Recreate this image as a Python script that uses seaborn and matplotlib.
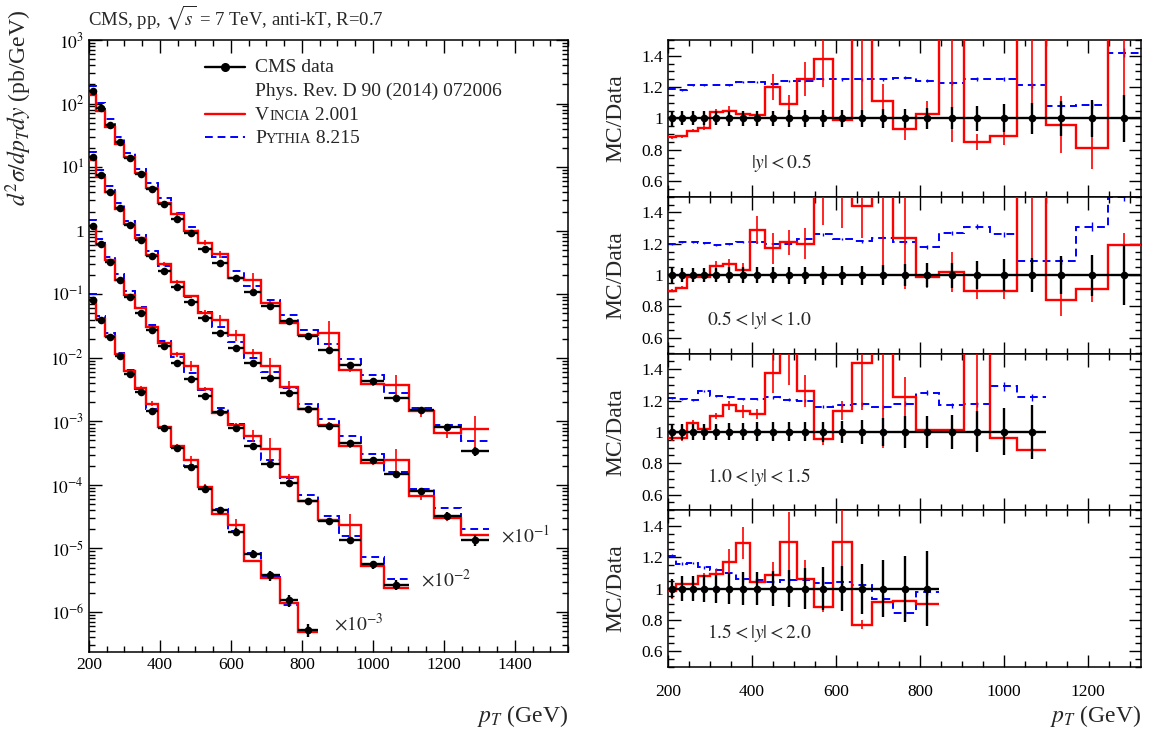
import numpy as np
import seaborn as sns
import matplotlib
matplotlib.use("Agg")
import matplotlib.pyplot as plt
from matplotlib.ticker import MultipleLocator, LogLocator, NullFormatter, FixedLocator

# pT bin edges (GeV), CMS 7 TeV inclusive jets
edges = [200, 220, 245, 272, 300, 330, 362, 395, 430, 468, 507, 548, 592, 638,
         686, 737, 790, 846, 905, 967, 1032, 1101, 1172, 1248, 1327]

rap_labels = [r"$|y| < 0.5$", r"$0.5 < |y| < 1.0$", r"$1.0 < |y| < 1.5$", r"$1.5 < |y| < 2.0$"]
scales = [1, 1e-1, 1e-2, 1e-3]
scale_labels = ["", r"$\times 10^{-1}$", r"$\times 10^{-2}$", r"$\times 10^{-3}$"]

# d2sigma/dpT dy (pb/GeV), before the scale factor
data_y0 = [156, 85.5, 46.5, 25.0, 13.7, 7.8, 4.5, 2.63, 1.54, 0.905, 0.518, 0.308,
           0.183, 0.108, 0.0645, 0.038, 0.0224, 0.0133, 0.0076, 0.0043, 0.00234,
           0.0015, 8.1e-4, 3.4e-4]
data_y1 = [144, 75.5, 41.2, 22.4, 12.1, 7.1, 4.0, 2.3, 1.32, 0.765, 0.428, 0.243,
           0.142, 0.0825, 0.0484, 0.0277, 0.0158, 0.0085, 0.0045, 0.00245, 0.00147,
           7.9e-4, 3.3e-4, 1.35e-4]
data_y2 = [119, 61, 32.3, 16.6, 9.0, 5.1, 2.74, 1.53, 0.83, 0.47, 0.255, 0.142,
           0.0785, 0.0415, 0.0216, 0.0109, 0.0055, 0.00275, 0.00135, 5.6e-4, 2.7e-4]
data_y3 = [82, 39.4, 21.2, 10.6, 5.66, 2.9, 1.48, 0.78, 0.38, 0.19, 0.087, 0.040,
           0.0183, 0.0083, 0.0038, 0.00152, 5.3e-4]

# relative data uncertainty (ratio units)
data_err0 = [0.05, 0.045, 0.045, 0.045, 0.045, 0.05, 0.05, 0.05, 0.05, 0.055, 0.055, 0.055,
             0.055, 0.055, 0.06, 0.06, 0.065, 0.07, 0.08, 0.09, 0.1, 0.11, 0.12, 0.15]
data_err1 = [0.05, 0.045, 0.045, 0.045, 0.045, 0.05, 0.05, 0.05, 0.05, 0.055, 0.055, 0.06,
             0.06, 0.06, 0.065, 0.07, 0.075, 0.08, 0.09, 0.1, 0.11, 0.12, 0.13, 0.19]
data_err2 = [0.05, 0.05, 0.05, 0.05, 0.05, 0.055, 0.055, 0.06, 0.06, 0.06, 0.06, 0.065,
             0.07, 0.075, 0.09, 0.1, 0.1, 0.11, 0.13, 0.15, 0.17]
data_err3 = [0.06, 0.08, 0.08, 0.085, 0.09, 0.1, 0.105, 0.105, 0.11, 0.12, 0.13, 0.135,
             0.145, 0.16, 0.18, 0.21, 0.24]

# Vincia 2.001 / data
vincia0 = [0.88, 0.885, 0.92, 0.94, 1.04, 1.05, 1.03, 1.02, 1.20, 1.09, 1.25, 1.38,
           0.99, 1.53, 1.11, 0.93, 1.03, 1.85, 0.85, 0.89, 1.62, 0.96, 0.81, 2.25]
vincia1 = [0.90, 0.92, 0.99, 0.99, 1.06, 1.07, 1.035, 1.29, 1.17, 1.21, 1.20, 1.62,
           1.60, 1.44, 1.55, 1.24, 0.985, 1.02, 0.90, 0.90, 1.70, 0.84, 0.91, 1.19]
vincia2 = [0.96, 0.96, 1.055, 1.02, 1.10, 1.17, 1.13, 1.115, 1.375, 1.60, 1.26, 0.955,
           1.135, 1.44, 1.70, 1.22, 1.01, 1.01, 1.75, 0.96, 0.885]
vincia3 = [0.985, 1.03, 1.03, 1.08, 1.095, 1.17, 1.29, 1.04, 1.09, 1.30, 1.06, 0.88,
           1.30, 0.77, 0.915, 0.92, 0.905]
vincia_err0 = [0.01, 0.01, 0.01, 0.015, 0.02, 0.03, 0.02, 0.02, 0.08, 0.06, 0.11, 0.18,
               0.04, 0.5, 0.11, 0.065, 0.08, 1.0, 0.05, 0.06, 0.7, 0.18, 0.13, 1.3]
vincia_err1 = [0.01, 0.01, 0.015, 0.015, 0.03, 0.03, 0.04, 0.09, 0.1, 0.08, 0.1, 0.3,
               0.3, 0.2, 0.5, 0.33, 0.07, 0.13, 0.05, 0.05, 0.8, 0.1, 0.08, 0.08]
vincia_err2 = [0.02, 0.02, 0.02, 0.02, 0.02, 0.03, 0.04, 0.03, 0.13, 0.3, 0.1, 0.04,
               0.06, 0.3, 0.8, 0.13, 0.05, 0.05, 0.8, 0.05, 0.05]
vincia_err3 = [0.05, 0.02, 0.02, 0.02, 0.03, 0.08, 0.1, 0.04, 0.08, 0.19, 0.12, 0.03,
               0.3, 0.03, 0.03, 0.13, 0.03]

# Pythia 8.215 / data
pythia0 = [1.19, 1.18, 1.21, 1.21, 1.215, 1.21, 1.23, 1.23, 1.22, 1.24, 1.24, 1.25,
           1.25, 1.25, 1.25, 1.26, 1.24, 1.225, 1.25, 1.25, 1.21, 1.08, 1.085, 1.42]
pythia1 = [1.20, 1.21, 1.21, 1.205, 1.19, 1.20, 1.21, 1.21, 1.20, 1.20, 1.23, 1.26,
           1.23, 1.215, 1.24, 1.21, 1.18, 1.27, 1.31, 1.26, 1.09, 1.09, 1.31, 1.50]
pythia2 = [1.215, 1.21, 1.205, 1.26, 1.23, 1.22, 1.21, 1.21, 1.22, 1.205, 1.20, 1.16,
           1.17, 1.18, 1.16, 1.18, 1.25, 1.17, 1.175, 1.29, 1.22]
pythia3 = [1.21, 1.16, 1.165, 1.135, 1.12, 1.10, 1.06, 1.055, 1.045, 1.055, 1.055, 1.035,
           1.04, 1.02, 0.935, 0.845, 0.98]
pythia_err0 = [0.005, 0.005, 0.005, 0.005, 0.005, 0.005, 0.006, 0.006, 0.007, 0.007, 0.008, 0.008,
               0.009, 0.009, 0.01, 0.01, 0.011, 0.012, 0.013, 0.014, 0.015, 0.017, 0.019, 0.03]
pythia_err1 = [0.005, 0.005, 0.005, 0.005, 0.005, 0.005, 0.006, 0.006, 0.007, 0.007, 0.008, 0.008,
               0.009, 0.009, 0.01, 0.01, 0.011, 0.012, 0.013, 0.014, 0.015, 0.017, 0.03, 0.03]
pythia_err2 = [0.006, 0.006, 0.006, 0.006, 0.006, 0.007, 0.007, 0.008, 0.008, 0.009, 0.009,
               0.01, 0.011, 0.012, 0.013, 0.014, 0.015, 0.016, 0.018, 0.03, 0.02]
pythia_err3 = [0.008, 0.008, 0.008, 0.008, 0.009, 0.009, 0.01, 0.01, 0.011, 0.012, 0.013,
               0.014, 0.015, 0.016, 0.018, 0.02, 0.022]

data_y = [data_y0, data_y1, data_y2, data_y3]
data_err = [data_err0, data_err1, data_err2, data_err3]
vincia = [vincia0, vincia1, vincia2, vincia3]
vincia_err = [vincia_err0, vincia_err1, vincia_err2, vincia_err3]
pythia = [pythia0, pythia1, pythia2, pythia3]
pythia_err = [pythia_err0, pythia_err1, pythia_err2, pythia_err3]

RED = "#ff0000"
BLUE = "#0000ff"
DASH = (0, (4, 2.5))

sns.set_theme(style="ticks")
plt.rcParams["font.family"] = ["Liberation Serif", "DejaVu Serif"]
plt.rcParams["mathtext.fontset"] = "stix"
plt.rcParams["xtick.direction"] = "in"
plt.rcParams["ytick.direction"] = "in"

W, H = 1151, 729
fig = plt.figure(figsize=(W / 100, H / 100), dpi=100)


def fbox(x0, y0, x1, y1):
    return [x0 / W, 1 - y1 / H, (x1 - x0) / W, (y1 - y0) / H]


def style_ticks(ax, size=12.5):
    ax.tick_params(which="both", direction="in", top=True, right=True, labelsize=size,
                   colors="black", width=1.0)
    ax.tick_params(which="major", length=9)
    ax.tick_params(which="minor", length=4.5)
    for sp in ax.spines.values():
        sp.set_linewidth(1.1)
        sp.set_color("black")


# ---------------- main spectrum ----------------
ax = fig.add_axes(fbox(89, 40, 568, 652))
for i in range(4):
    n = len(data_y[i])
    e = np.array(edges[:n + 1])
    c = 0.5 * (e[:-1] + e[1:])
    hw = 0.5 * (e[1:] - e[:-1])
    d = np.array(data_y[i]) * scales[i]
    py = d * np.array(pythia[i])
    vi = d * np.array(vincia[i])
    ax.stairs(py, e, color=BLUE, lw=1.4, ls=DASH, baseline=None, zorder=2)
    ax.stairs(vi, e, color=RED, lw=1.7, baseline=None, zorder=3)
    ax.errorbar(c, vi, yerr=d * np.array(vincia_err[i]), fmt="none", ecolor=RED,
                elinewidth=1.2, zorder=3)
    ax.errorbar(c, d, xerr=hw, yerr=d * np.array(data_err[i]), fmt="none",
                ecolor="black", elinewidth=1.7, zorder=4)
    sns.scatterplot(x=c, y=d, color="black", s=30, linewidth=0, ax=ax, zorder=5)

ax.set_yscale("log")
ax.set_xlim(200, 1550)
ax.set_ylim(2.35e-7, 1e3)
yt = [1e3, 1e2, 1e1, 1, 1e-1, 1e-2, 1e-3, 1e-4, 1e-5, 1e-6]
ylab = ["$10^{3}$", "$10^{2}$", "$10^{1}$", "1", "$10^{-1}$", "$10^{-2}$", "$10^{-3}$",
        "$10^{-4}$", "$10^{-5}$", "$10^{-6}$"]
ax.yaxis.set_major_locator(FixedLocator(yt))
ax.set_yticklabels(ylab)
ax.yaxis.set_minor_locator(LogLocator(base=10, subs=np.arange(2, 10), numticks=20))
ax.yaxis.set_minor_formatter(NullFormatter())
ax.xaxis.set_major_locator(MultipleLocator(200))
ax.xaxis.set_minor_locator(MultipleLocator(50))
style_ticks(ax)
ax.set_xticks([200, 400, 600, 800, 1000, 1200, 1400])
ax.set_xlabel("$p_T$ (GeV)", loc="right", fontsize=17)
ax.xaxis.set_label_coords(1.0, -0.083)
ax.set_ylabel(r"$d^2\sigma/dp_Tdy$ (pb/GeV)", loc="top", fontsize=17)
ax.yaxis.set_label_coords(-0.115, 1.05)

# scale factor labels
scale_pos = [None, (1362, 1.6e-5), (1136, 3.2e-6), (890, 6.5e-7)]
for i in range(1, 4):
    ax.text(scale_pos[i][0], scale_pos[i][1], scale_labels[i], fontsize=14,
            ha="left", va="center")


# legend
def fx(x):
    return x / W


def fy(y):
    return 1 - y / H


ax.plot([fx(205), fx(245)], [fy(67), fy(67)], color="black", lw=1.7,
        transform=fig.transFigure, clip_on=False)
ax.plot([fx(225)], [fy(67)], "o", color="black", ms=5.5, transform=fig.transFigure,
        clip_on=False)
fig.text(fx(255), fy(72), "CMS data", fontsize=14, va="baseline")
fig.text(fx(255), fy(96), "Phys. Rev. D 90 (2014) 072006", fontsize=14, va="baseline")
ax.plot([fx(205), fx(245)], [fy(114), fy(114)], color=RED, lw=1.7,
        transform=fig.transFigure, clip_on=False)
ax.plot([fx(205), fx(245)], [fy(137), fy(137)], color=BLUE, lw=1.4, ls=DASH,
        transform=fig.transFigure, clip_on=False)

renderer = fig.canvas.get_renderer()


def smallcaps(x, y, parts):
    xpix = x * W
    for txt, size in parts:
        t = fig.text(xpix / W, y, txt, fontsize=size, va="baseline")
        xpix = t.get_window_extent(renderer).x1


smallcaps(fx(255), fy(120), [("V", 14), ("INCIA", 10.5), ("\u00a02.001", 14)])
smallcaps(fx(255), fy(143), [("P", 14), ("YTHIA", 10.5), ("\u00a08.215", 14)])

fig.text(fx(88), fy(18), r"CMS, pp, $\sqrt{s}$ = 7 TeV, anti-kT, R=0.7", fontsize=13.5,
         va="center")

# ---------------- ratio panels ----------------
ph = (667 - 40) / 4.0
for i in range(4):
    top = 40 + i * ph
    axr = fig.add_axes(fbox(668, top, 1141, top + ph))
    n = len(data_y[i])
    e = np.array(edges[:n + 1])
    c = 0.5 * (e[:-1] + e[1:])
    hw = 0.5 * (e[1:] - e[:-1])
    ones = np.ones(n)
    axr.stairs(pythia[i], e, color=BLUE, lw=1.4, ls=DASH, baseline=None, zorder=2)
    axr.errorbar(c, pythia[i], yerr=pythia_err[i], fmt="none", ecolor=BLUE,
                 elinewidth=1.0, zorder=2)
    axr.stairs(vincia[i], e, color=RED, lw=1.7, baseline=None, zorder=3)
    axr.errorbar(c, vincia[i], yerr=vincia_err[i], fmt="none", ecolor=RED,
                 elinewidth=1.2, zorder=3)
    axr.errorbar(c, ones, xerr=hw, yerr=data_err[i], fmt="none", ecolor="black",
                 elinewidth=1.7, zorder=4)
    sns.scatterplot(x=c, y=ones, color="black", s=30, linewidth=0, ax=axr, zorder=5)
    axr.set_xlim(200, 1327)
    axr.set_ylim(0.5, 1.5)
    axr.set_yticks([0.6, 0.8, 1.0, 1.2, 1.4])
    axr.set_yticklabels(["0.6", "0.8", "1", "1.2", "1.4"])
    axr.yaxis.set_minor_locator(MultipleLocator(0.05))
    axr.xaxis.set_major_locator(MultipleLocator(200))
    axr.xaxis.set_minor_locator(MultipleLocator(50))
    style_ticks(axr)
    axr.set_ylabel("MC/Data", fontsize=17)
    axr.yaxis.set_label_coords(-0.088, 0.5)
    axr.text(0.303, 0.215, rap_labels[i], transform=axr.transAxes, ha="right",
             va="center", fontsize=14)
    if i < 3:
        axr.tick_params(labelbottom=False)
    else:
        axr.set_xticks([200, 400, 600, 800, 1000, 1200])
        axr.tick_params(axis="x", which="major", pad=12)
        axr.set_xlabel("$p_T$ (GeV)", loc="right", fontsize=17)
        axr.xaxis.set_label_coords(1.0, -0.23)

fig.savefig("out.png", dpi=100)
